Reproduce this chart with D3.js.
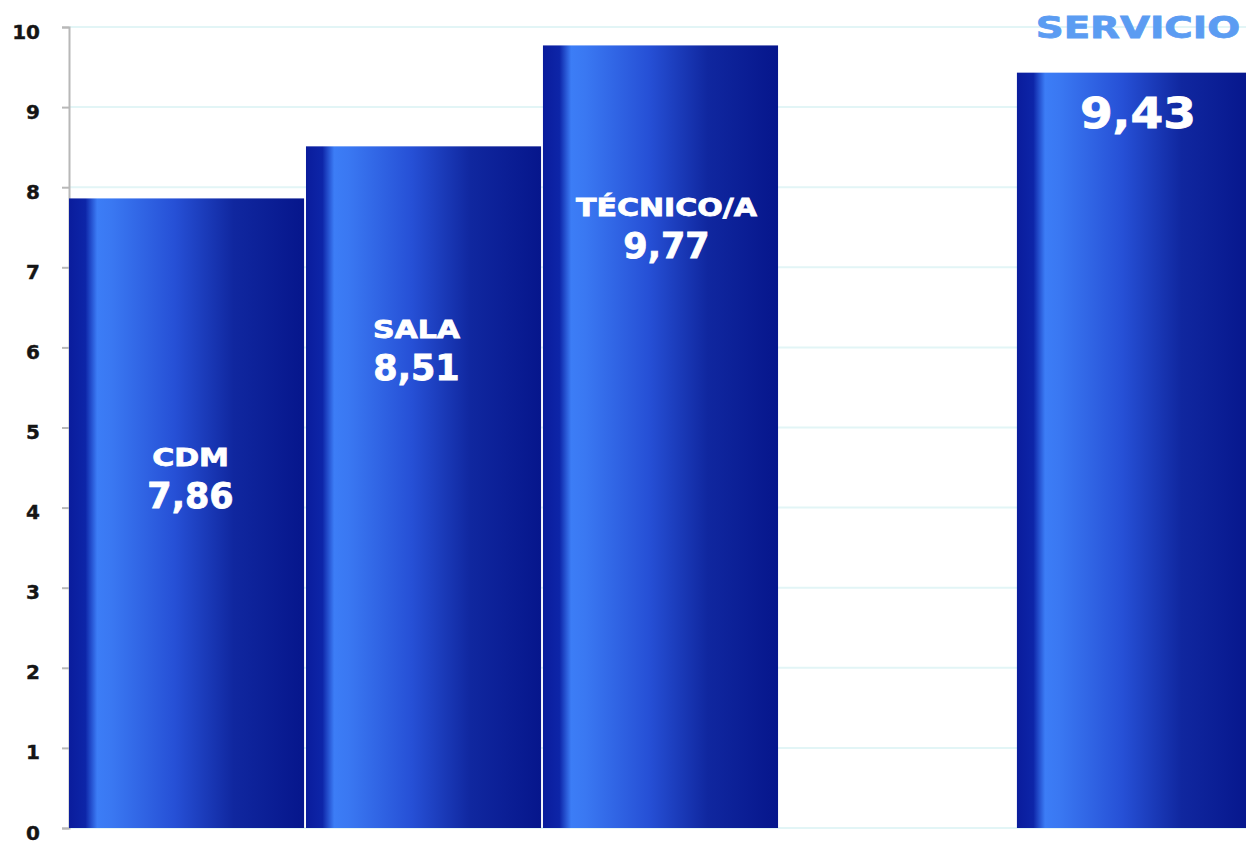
<!DOCTYPE html>
<html>
<head>
<meta charset="utf-8">
<script src="https://cdn.jsdelivr.net/npm/d3@7"></script>
<style>
  body { margin: 0; background: #fff; }
  svg { display: block; }
  .tick text { font-family: "DejaVu Sans", Verdana, sans-serif; font-weight: bold; font-size: 20px; fill: #151515; stroke: #151515; stroke-width: 0.4px; }
</style>
</head>
<body>
<div id="chart"></div>
<script>
// data
var categories = ["CDM", "SALA", "TÉCNICO/A", "SERVICIO"];
var values = [7.86, 8.51, 9.77, 9.43];
var valueLabels = ["7,86", "8,51", "9,77", "9,43"];
var slots = ["CDM", "SALA", "TÉCNICO/A", "_gap", "SERVICIO"];
var yTicks = [0, 1, 2, 3, 4, 5, 6, 7, 8, 9, 10];

var W = 1246, H = 842;
var margin = {top: 27, left: 69, bottom: 14};

var svg = d3.select("#chart").append("svg")
    .attr("width", W)
    .attr("height", H);

var x = d3.scaleBand()
    .domain(slots)
    .range([margin.left, 1252])
    .paddingInner(0.008)
    .paddingOuter(0);

var y = d3.scaleLinear()
    .domain([0, 10])
    .range([H - margin.bottom, margin.top]);

// bar gradient
var grad = svg.append("defs").append("linearGradient")
    .attr("id", "barGrad")
    .attr("x1", "0%").attr("x2", "100%")
    .attr("y1", "0%").attr("y2", "0%");
[["0%", "#0a1c9c"], ["7%", "#0d25a8"], ["12%", "#3c7df6"], ["18%", "#3a78f2"],
 ["45%", "#2650d6"], ["70%", "#10279f"], ["100%", "#06168c"]].forEach(function(s) {
  grad.append("stop").attr("offset", s[0]).attr("stop-color", s[1]);
});

// gridlines
svg.append("g")
    .selectAll("line")
    .data(yTicks)
  .enter().append("line")
    .attr("x1", margin.left)
    .attr("x2", W)
    .attr("y1", function(d) { return y(d); })
    .attr("y2", function(d) { return y(d); })
    .attr("stroke", "#e2f5f6")
    .attr("stroke-width", 2);

// y axis
var yAxis = svg.append("g")
    .attr("transform", "translate(" + margin.left + ",0)")
    .call(d3.axisLeft(y).tickValues(yTicks).tickSize(7).tickPadding(22).tickFormat(d3.format("d")));
yAxis.select(".domain").attr("stroke", "#b8b8b8").attr("stroke-width", 2);
yAxis.selectAll(".tick line").attr("stroke", "#b8b8b8").attr("stroke-width", 2);
yAxis.selectAll(".tick text").attr("dy", "0.55em");

// bars
svg.selectAll(".bar")
    .data(categories)
  .enter().append("rect")
    .attr("class", "bar")
    .attr("x", function(d) { return x(d); })
    .attr("width", x.bandwidth())
    .attr("y", function(d, i) { return y(values[i]); })
    .attr("height", function(d, i) { return y(0) - y(values[i]); })
    .attr("fill", "url(#barGrad)");

var labelFont = "'DejaVu Sans', Verdana, sans-serif";

function addText(tx, ty, size, sx, color, str) {
  svg.append("text")
      .attr("transform", "translate(" + tx + "," + ty + ") scale(" + sx + ",1)")
      .attr("text-anchor", "middle")
      .attr("font-family", labelFont)
      .attr("font-weight", "bold")
      .attr("font-size", size)
      .attr("fill", color)
      .attr("stroke", color)
      .attr("stroke-width", 0.8)
      .text(str);
}

// labels inside the first three bars (value baseline placed in data units)
var labelBase = [4.0, 5.59, 7.12];
var labelShift = [4, -7, 6];
categories.slice(0, 3).forEach(function(c, i) {
  var cx = x(c) + x.bandwidth() / 2 + labelShift[i];
  var vy = y(labelBase[i]);
  addText(cx, vy - 42, 24, 1.25, "#fff", c);
  addText(cx, vy, 35, 1.0, "#fff", valueLabels[i]);
});

// SERVICIO label above and value inside
var sx = x("SERVICIO") + 121;
addText(sx, 38, 31, 1.25, "#5b9cf2", categories[3]);
addText(sx, y(values[3]) + 55, 42, 1.12, "#fff", valueLabels[3]);
</script>
</body>
</html>
